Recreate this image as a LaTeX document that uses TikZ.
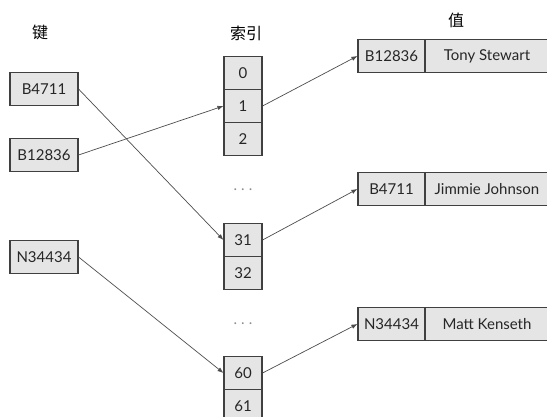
\documentclass[tikz,border=0pt]{standalone}
\usepackage{fontspec}
\setmainfont{Lato}
\newfontfamily\cjk{Noto Sans CJK SC}
\usetikzlibrary{arrows.meta}

\begin{document}
\begin{tikzpicture}[x=1pt,y=-1pt,
  box/.style={draw=black!75, fill=black!10, line width=1.1pt, inner sep=0pt,
    minimum height=33pt, text=black!85, font=\fontsize{15}{17}\selectfont},
  keybox/.style={box, minimum width=68pt},
  cell/.style={box, minimum width=38pt},
  vkey/.style={box, minimum width=67pt},
  vname/.style={box, minimum width=124pt},
  title/.style={font=\cjk\fontsize{16}{18}\selectfont},
  dots/.style={text=black!45, font=\fontsize{15}{17}\selectfont},
  link/.style={draw=black!70, line width=0.7pt, -{Latex[length=6pt,width=4.5pt]}}]
  \useasboundingbox (0,0) rectangle (547,417);
  % keys
  \node[title] (tkey) at (40,32) {键};
  \node[keybox] (k1) at (44,89) {B4711};
  \node[keybox] (k2) at (44,155) {B12836};
  \node[keybox] (k3) at (44,257) {N34434};
  % index column
  \node[title] (tidx) at (246,33) {索引};
  \node[cell] (i0) at (243,73) {0};
  \node[cell] (i1) at (243,106) {1};
  \node[cell] (i2) at (243,139) {2};
  \node[dots] (d1) at (243,190) {.\hspace{4pt}.\hspace{4pt}.};
  \node[cell] (i31) at (243,240) {31};
  \node[cell] (i32) at (243,273) {32};
  \node[dots] (d2) at (243,324) {.\hspace{4pt}.\hspace{4pt}.};
  \node[cell] (i60) at (243,373) {60};
  \node[cell] (i61) at (243,406) {61};
  % values
  \node[title] (tval) at (456,20) {值};
  \node[vkey] (v1) at (391.5,56) {B12836};
  \node[vname] (n1) at (487,56) {Tony Stewart};
  \node[vkey] (v2) at (391.5,189) {B4711};
  \node[vname] (n2) at (487,189) {Jimmie Johnson};
  \node[vkey] (v3) at (391.5,324) {N34434};
  \node[vname] (n3) at (487,324) {Matt Kenseth};
  % links
  \draw[link] (k1.east) -- (i31.west);
  \draw[link] (k2.east) -- (i1.west);
  \draw[link] (k3.east) -- (i60.west);
  \draw[link] (i1.east) -- (v1.west);
  \draw[link] (i31.east) -- (v2.west);
  \draw[link] (i60.east) -- (v3.west);
\end{tikzpicture}
\end{document}
